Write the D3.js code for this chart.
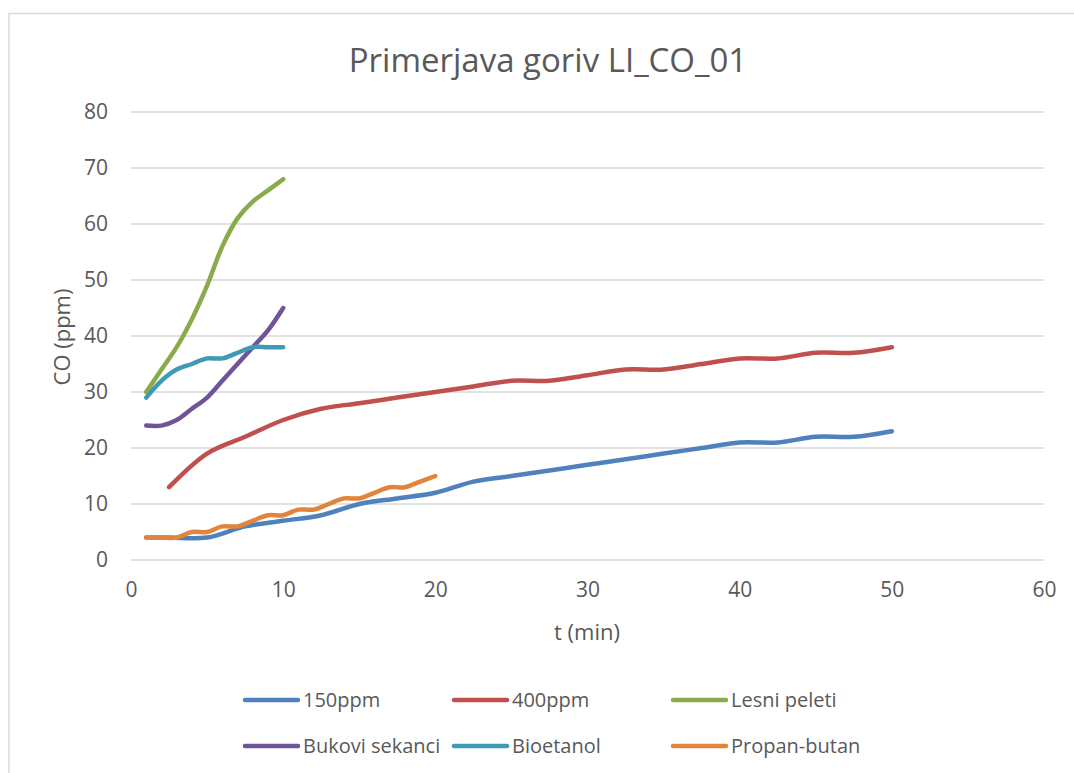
<!DOCTYPE html>
<html>
<head>
<meta charset="utf-8">
<script src="https://cdn.jsdelivr.net/npm/d3@7"></script>
<style>
  body { margin: 0; background: #fff; }
  text { font-family: "Open Sans", sans-serif; fill: #595959; }
</style>
</head>
<body>
<div id="chart"></div>
<script>
// data
const t150 = [1, 2.5, 5, 7.5, 10, 12.5, 15, 17.5, 20, 22.5, 25, 27.5, 30, 32.5, 35, 37.5, 40, 42.5, 45, 47.5, 50];
const co150 = [4, 4, 4, 6, 7, 8, 10, 11, 12, 14, 15, 16, 17, 18, 19, 20, 21, 21, 22, 22, 23];
const t400 = [2.5, 5, 7.5, 10, 12.5, 15, 17.5, 20, 22.5, 25, 27.5, 30, 32.5, 35, 37.5, 40, 42.5, 45, 47.5, 50];
const co400 = [13, 19, 22, 25, 27, 28, 29, 30, 31, 32, 32, 33, 34, 34, 35, 36, 36, 37, 37, 38];
const t10 = [1, 2, 3, 4, 5, 6, 7, 8, 9, 10];
const coPeleti = [30, 34, 38, 43, 49, 56, 61, 64, 66, 68];
const coSekanci = [24, 24, 25, 27, 29, 32, 35, 38, 41, 45];
const coBioetanol = [29, 32, 34, 35, 36, 36, 37, 38, 38, 38];
const t20 = [1, 2, 3, 4, 5, 6, 7, 8, 9, 10, 11, 12, 13, 14, 15, 16, 17, 18, 19, 20];
const coPropan = [4, 4, 4, 5, 5, 6, 6, 7, 8, 8, 9, 9, 10, 11, 11, 12, 13, 13, 14, 15];

const seriesNames = ["150ppm", "400ppm", "Lesni peleti", "Bukovi sekanci", "Bioetanol", "Propan-butan"];
const colors = ["#4f81bd", "#c0504d", "#8aab4b", "#6f5597", "#3f9bb5", "#e2843b"];
const xTicks = [0, 10, 20, 30, 40, 50, 60];
const yTicks = [0, 10, 20, 30, 40, 50, 60, 70, 80];

const series = [
    {name: seriesNames[0], x: t150, y: co150},
    {name: seriesNames[1], x: t400, y: co400},
    {name: seriesNames[2], x: t10, y: coPeleti},
    {name: seriesNames[3], x: t10, y: coSekanci},
    {name: seriesNames[4], x: t10, y: coBioetanol},
    {name: seriesNames[5], x: t20, y: coPropan}
];

const W = 1074, H = 773;
const plot = {left: 131, right: 1044, top: 112, bottom: 560};

const svg = d3.select("#chart").append("svg")
    .attr("width", W)
    .attr("height", H);

// chart frame
svg.append("rect")
    .attr("x", 9).attr("y", 13.5)
    .attr("width", W + 20).attr("height", H + 20)
    .attr("fill", "#fff")
    .attr("stroke", "#d9d9d9")
    .attr("stroke-width", 1.5);

const x = d3.scaleLinear().domain([0, 60]).range([plot.left, plot.right]);
const y = d3.scaleLinear().domain([0, 80]).range([plot.bottom, plot.top]);

// gridlines
svg.append("g")
    .selectAll("line")
    .data(yTicks)
    .enter().append("line")
    .attr("x1", plot.left)
    .attr("x2", plot.right)
    .attr("y1", d => y(d))
    .attr("y2", d => y(d))
    .attr("stroke", "#d9d9d9")
    .attr("stroke-width", 1.5);

// y axis labels
const yAxis = svg.append("g")
    .attr("transform", "translate(" + plot.left + ",0)")
    .call(d3.axisLeft(y).tickValues(yTicks).tickSize(0).tickPadding(23));
yAxis.select(".domain").remove();
yAxis.selectAll("text").style("font-size", "21px").attr("fill", "#595959");

// x axis labels
const xAxis = svg.append("g")
    .attr("transform", "translate(0," + plot.bottom + ")")
    .call(d3.axisBottom(x).tickValues(xTicks).tickSize(0).tickPadding(22));
xAxis.select(".domain").remove();
xAxis.selectAll("text").style("font-size", "21px").attr("fill", "#595959");

// lines
const line = d3.line()
    .x(d => x(d[0]))
    .y(d => y(d[1]))
    .curve(d3.curveCatmullRom.alpha(0.5));

series.forEach(function (s, i) {
    const pts = s.x.map((v, j) => [v, s.y[j]]);
    svg.append("path")
        .datum(pts)
        .attr("d", line)
        .attr("fill", "none")
        .attr("stroke", colors[i])
        .attr("stroke-width", 4.5)
        .attr("stroke-linecap", "round")
        .attr("stroke-linejoin", "round");
});

// titles
svg.append("text")
    .attr("x", 548).attr("y", 72)
    .attr("text-anchor", "middle")
    .style("font-size", "33px")
    .text("Primerjava goriv LI_CO_01");

svg.append("text")
    .attr("x", 587).attr("y", 640)
    .attr("text-anchor", "middle")
    .style("font-size", "22px")
    .text("t (min)");

svg.append("text")
    .attr("transform", "translate(70,337) rotate(-90)")
    .attr("text-anchor", "middle")
    .style("font-size", "22px")
    .text("CO (ppm)");

// legend
const legendX = [243, 452, 671];
const legendY = [700, 746];
const legend = svg.append("g");
seriesNames.forEach(function (name, i) {
    const lx = legendX[i % 3], ly = legendY[Math.floor(i / 3)];
    legend.append("line")
        .attr("x1", lx + 2).attr("x2", lx + 55)
        .attr("y1", ly).attr("y2", ly)
        .attr("stroke", colors[i])
        .attr("stroke-width", 4.5)
        .attr("stroke-linecap", "round");
    legend.append("text")
        .attr("x", lx + 60).attr("y", ly)
        .attr("dy", "0.35em")
        .style("font-size", "20px")
        .text(name);
});
</script>
</body>
</html>
